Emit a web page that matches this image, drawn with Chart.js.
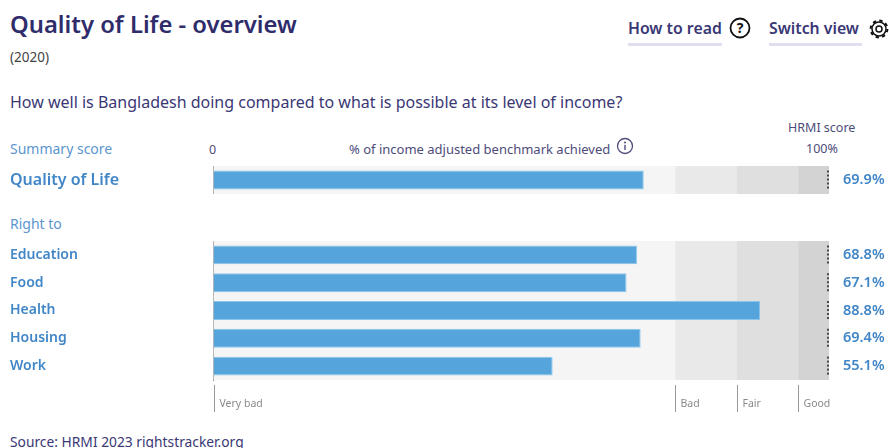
<!DOCTYPE html>
<html>
<head>
<meta charset="utf-8">
<title>Quality of Life - overview</title>
<script src="https://cdn.jsdelivr.net/npm/chart.js@4/dist/chart.umd.min.js"></script>
<style>
    html, body { margin: 0; padding: 0; background: #fff; overflow: hidden; }
    body { position: relative; width: 889px; height: 448px; font-family: "Noto Sans", sans-serif; color: #2f2c6b; }
    .t { position: absolute; white-space: nowrap; line-height: 20px; }
    canvas { position: absolute; left: 10px; }
    svg { position: absolute; overflow: visible; }
    .link { font-weight: 600; font-size: 15.8px; color: #3a3775; }
    .rule { position: absolute; top: 43px; height: 3px; background: #e0dff0; }
    .blue { color: #5b96cf; font-size: 14px; }
    .grey { color: #4e4c7a; font-size: 12.5px; }
</style>
</head>
<body>
<div class="t" style="left:10px;top:14px;font-size:23.8px;font-weight:600;">Quality of Life - overview</div>
<div class="t" style="left:10px;top:47px;font-size:13.5px;color:#444;">(2020)</div>
<div class="t" style="left:10px;top:92px;font-size:16px;color:#3a3775;">How well is Bangladesh doing compared to what is possible at its level of income?</div>

<div class="t link" style="left:628px;top:18px;">How to read</div>
<div class="rule" style="left:628px;width:94px;"></div>
<svg style="left:729px;top:17px;" width="22" height="22" viewBox="0 0 22 22">
    <circle cx="11" cy="11" r="9.5" fill="none" stroke="#111" stroke-width="1.8"/>
    <text x="11" y="16" text-anchor="middle" font-size="14" font-weight="700" font-family="Noto Sans" fill="#111">?</text>
</svg>
<div class="t link" style="left:769px;top:18px;">Switch view</div>
<div class="rule" style="left:769px;width:93px;"></div>
<svg style="left:869px;top:19px;" width="20" height="20" viewBox="0 0 20 20">
    <circle cx="10" cy="10" r="3" fill="none" stroke="#111" stroke-width="1.5"/>
    <circle cx="10" cy="10" r="7" fill="none" stroke="#111" stroke-width="1.5"/>
    <circle cx="10" cy="10" r="8.4" fill="none" stroke="#111" stroke-width="2" stroke-dasharray="3.3 3.3"/>
</svg>

<div class="t blue" style="left:10px;top:139px;">Summary score</div>
<div class="t grey" style="left:209px;top:140px;">0</div>
<div class="t grey" style="left:349px;top:139px;font-size:13px;">% of income adjusted benchmark achieved</div>
<svg style="left:616px;top:137px;" width="18" height="18" viewBox="0 0 18 18">
    <circle cx="9" cy="9" r="7.5" fill="none" stroke="#4e4c7a" stroke-width="1.3"/>
    <circle cx="9" cy="5.6" r="1" fill="#4e4c7a"/>
    <rect x="8.3" y="7.8" width="1.4" height="5.2" fill="#4e4c7a"/>
</svg>
<div class="t grey" style="left:788px;top:118px;">HRMI score</div>
<div class="t grey" style="left:806px;top:139px;">100%</div>
<div class="t blue" style="left:10px;top:214px;">Right to</div>

<canvas id="summaryChart" width="879" height="28" style="top:166px;"></canvas>
<canvas id="rightsChart" width="879" height="175" style="top:241px;"></canvas>

<div class="t" style="left:10px;top:432px;font-size:13.8px;color:#3a3775;">Source: HRMI 2023 rightstracker.org</div>

<script>
const summaryLabels = ["Quality of Life"];
const summaryScores = [69.9];
const rightsLabels = ["Education", "Food", "Health", "Housing", "Work"];
const rightsScores = [68.8, 67.1, 88.8, 69.4, 55.1];

// Band limits along the benchmark axis
const bandStarts = [0, 75, 85, 95];
const bandEnds = [75, 85, 95, 100];
const bandNames = ["Very bad", "Bad", "Fair", "Good"];
const bandColors = ["#f5f5f5", "#e9e9e9", "#dfdfdf", "#d3d3d3"];

const blue = "#4186c6";

// Dotted 100% marker on each row and the score at the end of it
const rowEnds = {
    id: "rowEnds",
    afterDatasetsDraw(chart) {
        const ctx = chart.ctx;
        const x = chart.scales.x.getPixelForValue(100);
        const bars = chart.getDatasetMeta(0).data;
        ctx.save();
        bars.forEach((bar, i) => {
            ctx.strokeStyle = "#4a4a4a";
            ctx.lineWidth = 2;
            ctx.setLineDash([2, 2]);
            ctx.beginPath();
            ctx.moveTo(x - 1, bar.y - 9.5);
            ctx.lineTo(x - 1, bar.y + 9.5);
            ctx.stroke();
            ctx.setLineDash([]);
            ctx.fillStyle = blue;
            ctx.font = "600 14.5px 'Noto Sans'";
            ctx.textBaseline = "middle";
            ctx.fillText(chart.data.datasets[0].data[i].toFixed(1) + "%", x + 14, bar.y);
        });
        ctx.restore();
    },
};

// Band names under the rows, each beside a short tick
const bandTicks = {
    id: "bandTicks",
    afterDraw(chart) {
        const ctx = chart.ctx;
        const top = chart.chartArea.bottom + 5;
        ctx.save();
        ctx.font = "10.5px 'Noto Sans'";
        ctx.textBaseline = "middle";
        bandStarts.forEach((start, i) => {
            const x = Math.round(chart.scales.x.getPixelForValue(start)) + 0.5;
            ctx.strokeStyle = "#999";
            ctx.lineWidth = 1;
            ctx.beginPath();
            ctx.moveTo(x, top);
            ctx.lineTo(x, top + 27);
            ctx.stroke();
            ctx.fillStyle = "#8a8a8a";
            ctx.fillText(bandNames[i], x + 5, top + 19);
        });
        ctx.restore();
    },
};

function buildChart(id, labels, scores, labelSize, bottomSpace, extraPlugins) {
    const datasets = [{
        data: scores,
        backgroundColor: "#55a5dc",
        borderColor: "#8cc4ea",
        borderWidth: 1,
        barPercentage: 0.68,
        categoryPercentage: 1,
        order: 0,
    }];
    bandStarts.forEach((start, i) => {
        datasets.push({
            data: labels.map(() => [start, bandEnds[i]]),
            backgroundColor: bandColors[i],
            borderWidth: 0,
            barPercentage: 1,
            categoryPercentage: 1,
            order: i + 1,
        });
    });
    return new Chart(document.getElementById(id), {
        type: "bar",
        data: { labels: labels, datasets: datasets },
        plugins: [rowEnds].concat(extraPlugins),
        options: {
            indexAxis: "y",
            responsive: false,
            animation: false,
            datasets: { bar: { grouped: false } },
            layout: { padding: { right: 60, bottom: bottomSpace } },
            plugins: { legend: { display: false }, tooltip: { enabled: false } },
            scales: {
                x: { display: false, min: 0, max: 100 },
                y: {
                    // fixed label column, and no extra room for the first and last label
                    afterFit(scale) {
                        scale.width = 203.5;
                        scale.paddingTop = 0;
                        scale.paddingBottom = 0;
                    },
                    grid: { display: false },
                    border: { display: true, color: "#8a8a8a", width: 1 },
                    ticks: {
                        crossAlign: "far",
                        color: blue,
                        font: { family: "Noto Sans", size: labelSize, weight: "600" },
                    },
                },
            },
        },
    });
}

buildChart("summaryChart", summaryLabels, summaryScores, 16, 0, []);
buildChart("rightsChart", rightsLabels, rightsScores, 14, 36, [bandTicks]);
</script>
</body>
</html>
